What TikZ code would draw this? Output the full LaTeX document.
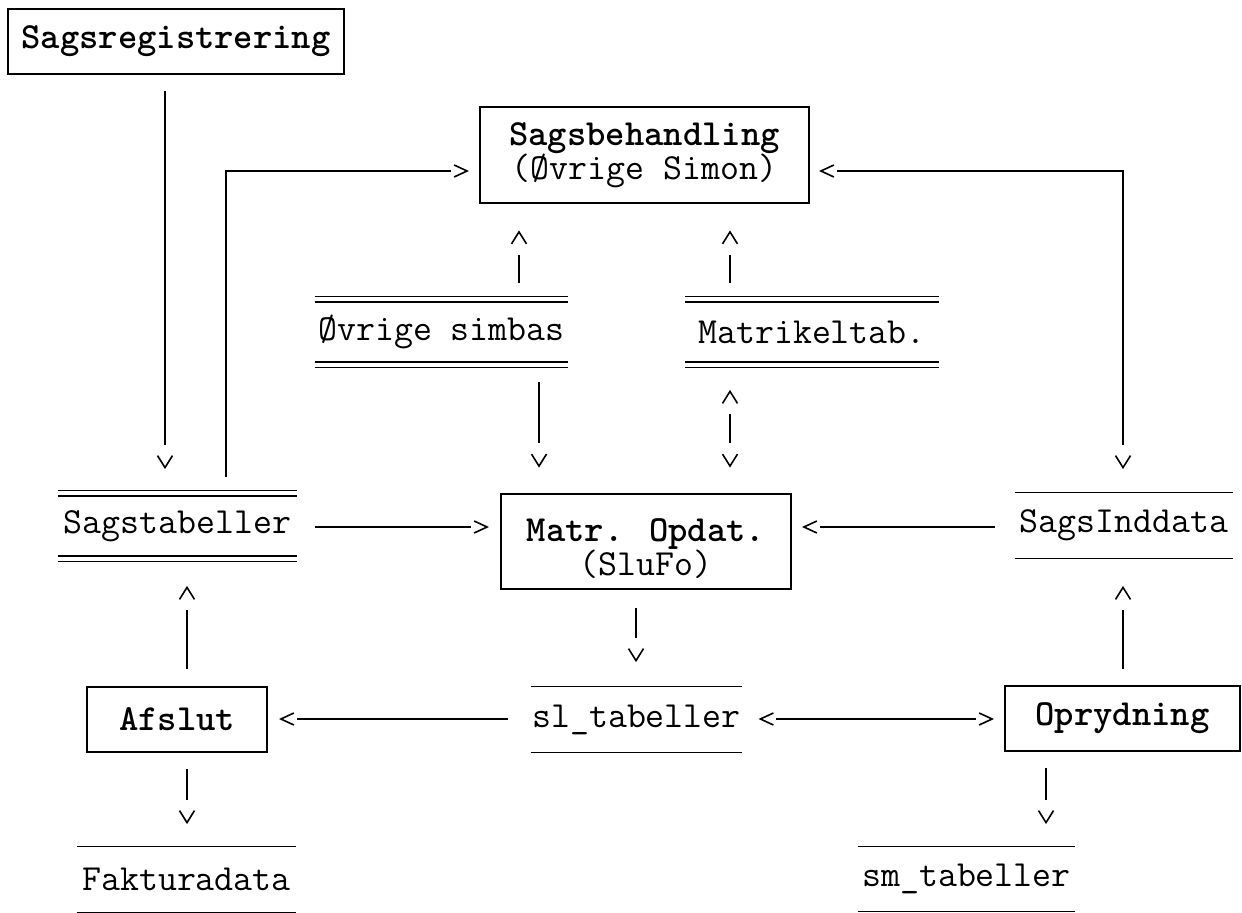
\documentclass[tikz,border=0pt]{standalone}
\usetikzlibrary{arrows.meta}
\newcommand\dtt{\fontsize{18.4pt}{17pt}\selectfont\ttfamily\lineskiplimit=-20pt\relax}
% ASCII-like chevron tips: vertical "v"/"^" and horizontal ">"/"<"
\pgfdeclarearrow{
  name=ascv,
  setup code={
    \pgfarrowssettipend{0pt}
    \pgfarrowssetbackend{-6pt}
    \pgfarrowssetlineend{-11.5pt}
    \pgfarrowshullpoint{0pt}{0pt}
    \pgfarrowshullpoint{-6pt}{3.75pt}
    \pgfarrowshullpoint{-6pt}{-3.75pt}
  },
  drawing code={
    \pgfsetlinewidth{0.8pt}
    \pgfsetdash{}{0pt}
    \pgfsetmiterjoin
    \pgfpathmoveto{\pgfpoint{-6pt}{3.75pt}}
    \pgfpathlineto{\pgfpointorigin}
    \pgfpathlineto{\pgfpoint{-6pt}{-3.75pt}}
    \pgfusepathqstroke
  }
}
\pgfdeclarearrow{
  name=asch,
  setup code={
    \pgfarrowssettipend{0pt}
    \pgfarrowssetbackend{-6.5pt}
    \pgfarrowssetlineend{-8pt}
    \pgfarrowshullpoint{0pt}{0pt}
    \pgfarrowshullpoint{-6.5pt}{3pt}
    \pgfarrowshullpoint{-6.5pt}{-3pt}
  },
  drawing code={
    \pgfsetlinewidth{0.8pt}
    \pgfsetdash{}{0pt}
    \pgfsetmiterjoin
    \pgfpathmoveto{\pgfpoint{-6.5pt}{3pt}}
    \pgfpathlineto{\pgfpointorigin}
    \pgfpathlineto{\pgfpoint{-6.5pt}{-3pt}}
    \pgfusepathqstroke
  }
}
\tikzset{
  txt/.style={font=\dtt, inner sep=0pt},
  procbox/.style={font=\dtt\bfseries, inner sep=0pt, draw, line width=0.9pt},
  sline/.style={line width=0.8pt},
  conn/.style={line width=0.9pt},
}
\begin{document}
\begin{tikzpicture}[x=0.5pt,y=-0.5pt]
\useasboundingbox (0,0) rectangle (1242,913);

% ---------- nodes ----------
\node[procbox, minimum width=168pt, minimum height=32.5pt] (reg) at (176,41.5) {Sagsregistrering};
\node[txt, draw, line width=0.9pt, align=center, minimum width=164.5pt, minimum height=48pt] (beh) at (644.5,155)
  {\textbf{Sagsbehandling}\\(Øvrige Simon)};
\node[txt, minimum width=126.5pt, minimum height=35pt] (ovr) at (441.5,332) {Øvrige simbas};
\node[txt, minimum width=126.5pt, minimum height=35pt] (mat) at (812,332) {Matrikeltab.};
\node[txt, minimum width=119.5pt, minimum height=35pt] (stab) at (177.5,526) {Sagstabeller};
\node[draw, line width=0.9pt, inner sep=0pt, minimum width=145pt, minimum height=47.5pt] (matr) at (646,541.5) {};
\node[txt, align=center] (matrt) at (646,549) {\textbf{Matr. Opdat.}\\(SluFo)};
\node[txt, minimum width=109pt, minimum height=32.5pt] (sin) at (1124,525.5) {SagsInddata};
\node[txt, minimum width=105.5pt, minimum height=32.5pt] (slt) at (636.5,719.5) {sl\_tabeller};
\node[procbox, minimum width=90pt, minimum height=32.5pt] (afs) at (177,719.5) {Afslut};
\node[procbox, minimum width=117.5pt, minimum height=32.5pt] (opr) at (1122.5,718.5) {Oprydning};
\node[txt, minimum width=109.5pt, minimum height=32.5pt] (fak) at (186.5,879.5) {Fakturadata};
\node[txt, minimum width=108.5pt, minimum height=32pt] (smt) at (966.5,879) {sm\_tabeller};

% store lines
\foreach \n in {ovr,mat,stab}{
  \draw[sline] (\n.north west) -- (\n.north east);
  \draw[sline] ([yshift=-2.6pt]\n.north west) -- ([yshift=-2.6pt]\n.north east);
  \draw[sline] (\n.south west) -- (\n.south east);
  \draw[sline] ([yshift=2.6pt]\n.south west) -- ([yshift=2.6pt]\n.south east);
}
\foreach \n in {sin,slt,fak,smt}{
  \draw[sline] (\n.north west) -- (\n.north east);
  \draw[sline] (\n.south west) -- (\n.south east);
}

% ---------- routing coordinates ----------
\coordinate (c165) at (165,0);
\coordinate (c226) at (226,0);
\coordinate (c519) at (519,0);
\coordinate (c539) at (539,0);
\coordinate (c730) at (730,0);
\coordinate (c636) at (636,0);
\coordinate (c187) at (187,0);
\coordinate (c1123) at (1123,0);
\coordinate (c1046) at (1046,0);
\coordinate (r171) at (0,171);
\coordinate (r527) at (0,527);
\coordinate (r719) at (0,719);

% ---------- connectors ----------
\draw[conn, arrows=-ascv, shorten <=8pt, shorten >=11.5pt] (reg.south -| c165) -- (stab.north -| c165);
\draw[conn, arrows=-asch, shorten <=7pt, shorten >=6pt] (stab.north -| c226) |- (beh.west |- r171);
\draw[conn, arrows=asch-ascv, shorten <=5.5pt, shorten >=12.5pt] (beh.east |- r171) -| (sin.north -| c1123);
\draw[conn, arrows=-ascv, shorten <=7pt, shorten >=14pt] (ovr.north -| c519) -- (beh.south -| c519);
\draw[conn, arrows=-ascv, shorten <=7pt, shorten >=14pt] (mat.north -| c730) -- (beh.south -| c730);
\draw[conn, arrows=-ascv, shorten <=7.5pt, shorten >=13.5pt] (ovr.south -| c539) -- (matr.north -| c539);
\draw[conn, arrows=ascv-ascv, shorten <=12pt, shorten >=13.5pt] (mat.south -| c730) -- (matr.north -| c730);
\draw[conn, arrows=-asch, shorten <=9pt, shorten >=6.5pt] (stab.east |- r527) -- (matr.west |- r527);
\draw[conn, arrows=-asch, shorten <=10pt, shorten >=6pt] (sin.west |- r527) -- (matr.east |- r527);
\draw[conn, arrows=-ascv, shorten <=9pt, shorten >=13pt] (matr.south -| c636) -- (slt.north -| c636);
\draw[conn, arrows=-asch, shorten <=11.5pt, shorten >=6.5pt] (slt.west |- r719) -- (afs.east |- r719);
\draw[conn, arrows=asch-asch, shorten <=9pt, shorten >=6pt] (slt.east |- r719) -- (opr.west |- r719);
\draw[conn, arrows=-ascv, shorten <=8.5pt, shorten >=13pt] (afs.north -| c187) -- (stab.south -| c187);
\draw[conn, arrows=-ascv, shorten <=8pt, shorten >=12pt] (afs.south -| c187) -- (fak.north -| c187);
\draw[conn, arrows=-ascv, shorten <=8pt, shorten >=14.5pt] (opr.north -| c1123) -- (sin.south -| c1123);
\draw[conn, arrows=-ascv, shorten <=8pt, shorten >=12pt] (opr.south -| c1046) -- (smt.north -| c1046);
\end{tikzpicture}
\end{document}
